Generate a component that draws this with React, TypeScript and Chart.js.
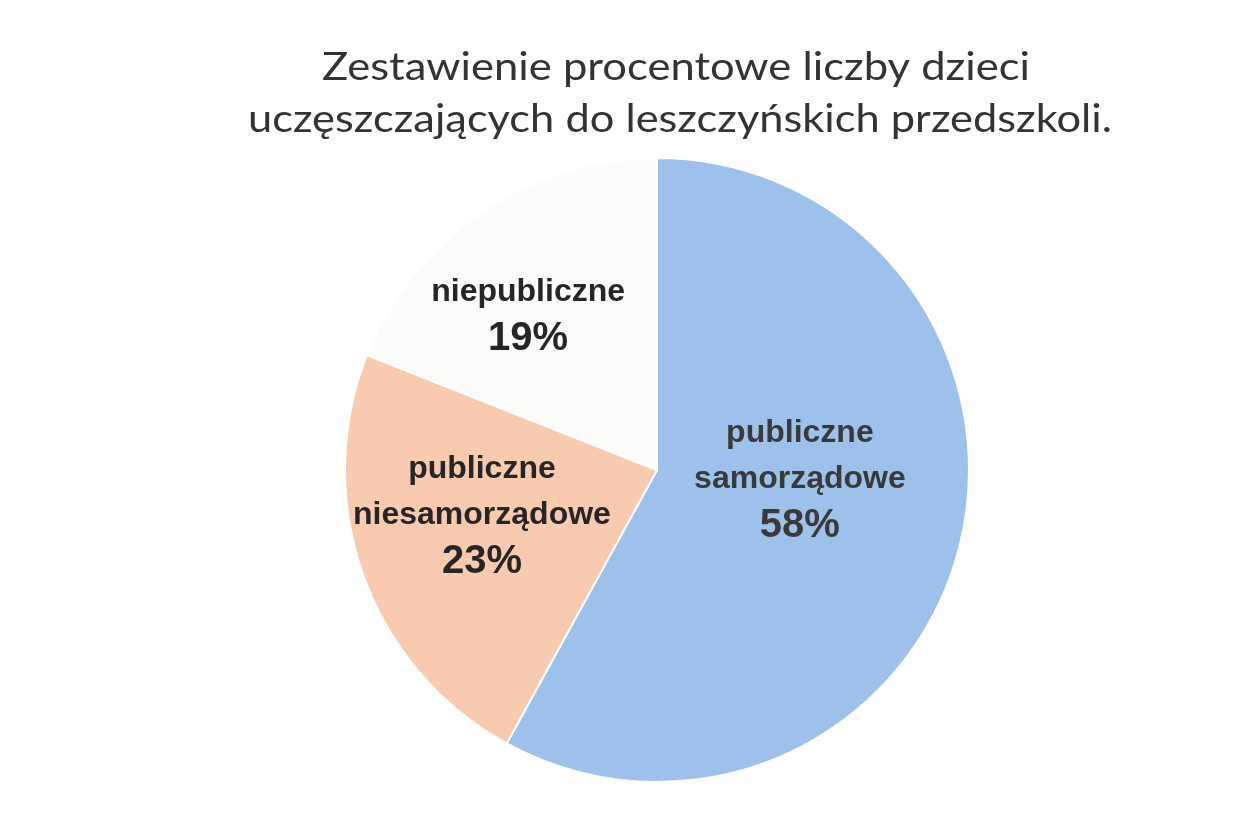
import React, { useEffect, useRef } from "react";
import { Chart, registerables } from "chart.js";

Chart.register(...registerables);

const titleLines = ["Zestawienie procentowe liczby dzieci", "uczęszczających do leszczyńskich przedszkoli."];
const categories = ["publiczne samorządowe", "publiczne niesamorządowe", "niepubliczne"];
const labelLines = [["publiczne", "samorządowe"], ["publiczne", "niesamorządowe"], ["niepubliczne"]];
const values = [58, 23, 19];
const percentLabels = ["58%", "23%", "19%"];
const sliceColors = ["#9dc1ea", "#f8cab0", "#fbfbfa"];
// label anchor (baseline of percentage line), in units of the pie radius from its centre
const labelAnchors = [[0.458, 0.215], [-0.561, 0.33], [-0.413, -0.385]];

const titlePlugin = {
  id: "scanTitle",
  afterDraw(chart: any) {
    const ctx = chart.ctx;
    const specs = [
      { x: 668, y: 72, w: 708 },
      { x: 672, y: 124, w: 864 },
    ];
    ctx.save();
    ctx.fillStyle = "#333333";
    ctx.font = "38px Lato, 'Open Sans', sans-serif";
    ctx.textAlign = "center";
    ctx.textBaseline = "alphabetic";
    titleLines.forEach((t, i) => {
      const s = specs[i];
      const m = ctx.measureText(t).width;
      ctx.save();
      ctx.translate(s.x, s.y);
      ctx.scale(s.w / m, 1);
      ctx.fillText(t, 0, 0);
      ctx.restore();
    });
    ctx.restore();
  },
};

const labelPlugin = {
  id: "sliceLabels",
  afterDatasetsDraw(chart: any) {
    const ctx = chart.ctx;
    const meta = chart.getDatasetMeta(0);
    ctx.save();
    ctx.textAlign = "center";
    ctx.textBaseline = "alphabetic";
    meta.data.forEach((arc: any, i: number) => {
      const r = arc.outerRadius;
      const ax = arc.x + labelAnchors[i][0] * r;
      const ay = arc.y + labelAnchors[i][1] * r;
      ctx.fillStyle = i === 0 ? "#3a3a3a" : "#262626";
      ctx.font = "bold 40px 'Liberation Sans', Arial, sans-serif";
      ctx.fillText(percentLabels[i], ax, ay);
      ctx.font = "bold 32px 'Liberation Sans', Arial, sans-serif";
      const lines = labelLines[i];
      lines.forEach((l, j) => {
        const fromEnd = lines.length - j;
        ctx.fillText(l, ax, ay - 49 - (fromEnd - 1) * 46);
      });
    });
    ctx.restore();
  },
};

export default function App() {
  const ref = useRef<HTMLCanvasElement>(null);
  useEffect(() => {
    if (!ref.current) return;
    const chart = new Chart(ref.current, {
      type: "pie",
      data: {
        labels: categories,
        datasets: [
          {
            data: values,
            backgroundColor: sliceColors,
            borderColor: "#ffffff",
            borderWidth: 2,
          },
        ],
      },
      options: {
        responsive: true,
        maintainAspectRatio: false,
        animation: false,
        layout: { padding: { left: 336, right: 268, top: 149, bottom: 28 } },
        plugins: {
          legend: { display: false },
          tooltip: { enabled: false },
          title: { display: false },
        },
      },
      plugins: [titlePlugin, labelPlugin],
    });
    return () => chart.destroy();
  }, []);
  return (
    <div style={{ position: "relative", width: 1230, height: 803, background: "#ffffff" }}>
      <canvas ref={ref} />
    </div>
  );
}
